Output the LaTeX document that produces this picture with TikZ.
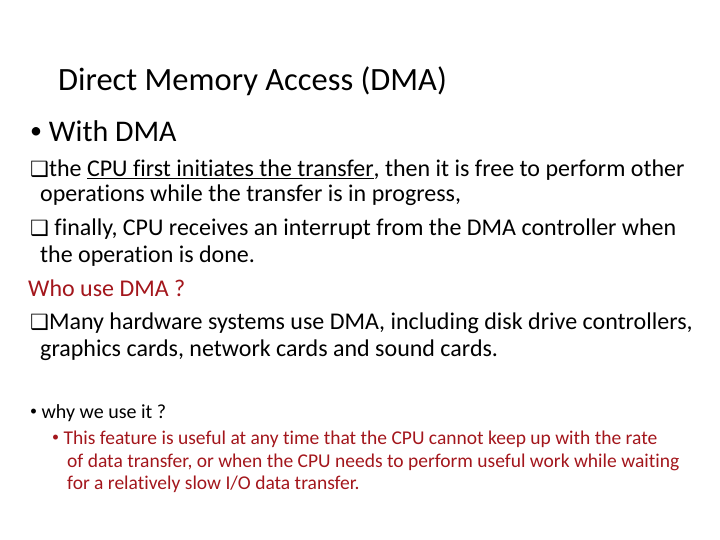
\documentclass[tikz,border=0pt]{standalone}
\usepackage{fontspec}
\setmainfont[Ligatures=NoCommon]{Carlito}
\newfontfamily\symfont{DejaVu Sans}
\usepackage{tikz}
\usetikzlibrary{positioning}
\definecolor{slidered}{HTML}{A3161C}
\tikzset{line/.style={anchor=base west, inner sep=0pt, font=\fontsize{24}{28}\selectfont},
         small/.style={line, font=\fontsize{20}{24}\selectfont}}
\newcommand{\qbox}{{\symfont\fontsize{21}{20}\selectfont ❑}}
\newcommand{\dotb}[1][14]{{\fontsize{#1}{14}\selectfont\raisebox{0.15em}{•}}}
\begin{document}
\begin{tikzpicture}[x=1pt, y=-1pt]
  \useasboundingbox (0,0) rectangle (720,540);
  \node (title) [line, font=\fontsize{32.5}{36}\selectfont] at (58,91) {Direct Memory Access (DMA)};
  \node (with) [line, font=\fontsize{30}{36}\selectfont] at (30,142) {\dotb[24]\ With DMA};
  \node (l1) [line] at (30,177) {\qbox the \underline{CPU first initiates the transfer}, then it is free to perform other};
  \node (l2) [line] at (40,202) {operations while the transfer is in progress,};
  \node (l3) [line] at (30,236) {\qbox\ finally, CPU receives an interrupt from the DMA controller when};
  \node (l4) [line] at (40,262) {the operation is done.};
  \node (who) [line, text=slidered] at (28,296) {Who use DMA ?};
  \node (l5) [line] at (30,329) {\qbox Many hardware systems use DMA, including disk drive controllers,};
  \node (l6) [line] at (40,356) {graphics cards, network cards and sound cards.};
  \node (why) [small] at (30,418) {\dotb\ why we use it ?};
  \node (s1) [small, font=\fontsize{19.5}{24}\selectfont, text=slidered] at (52,444) {\dotb\ This feature is useful at any time that the CPU cannot keep up with the rate};
  \node (s2) [small, font=\fontsize{19.5}{24}\selectfont, text=slidered] at (67,467) {of data transfer, or when the CPU needs to perform useful work while waiting};
  \node (s3) [small, font=\fontsize{19.5}{24}\selectfont, text=slidered] at (67,489) {for a relatively slow I/O data transfer.};
\end{tikzpicture}
\end{document}
